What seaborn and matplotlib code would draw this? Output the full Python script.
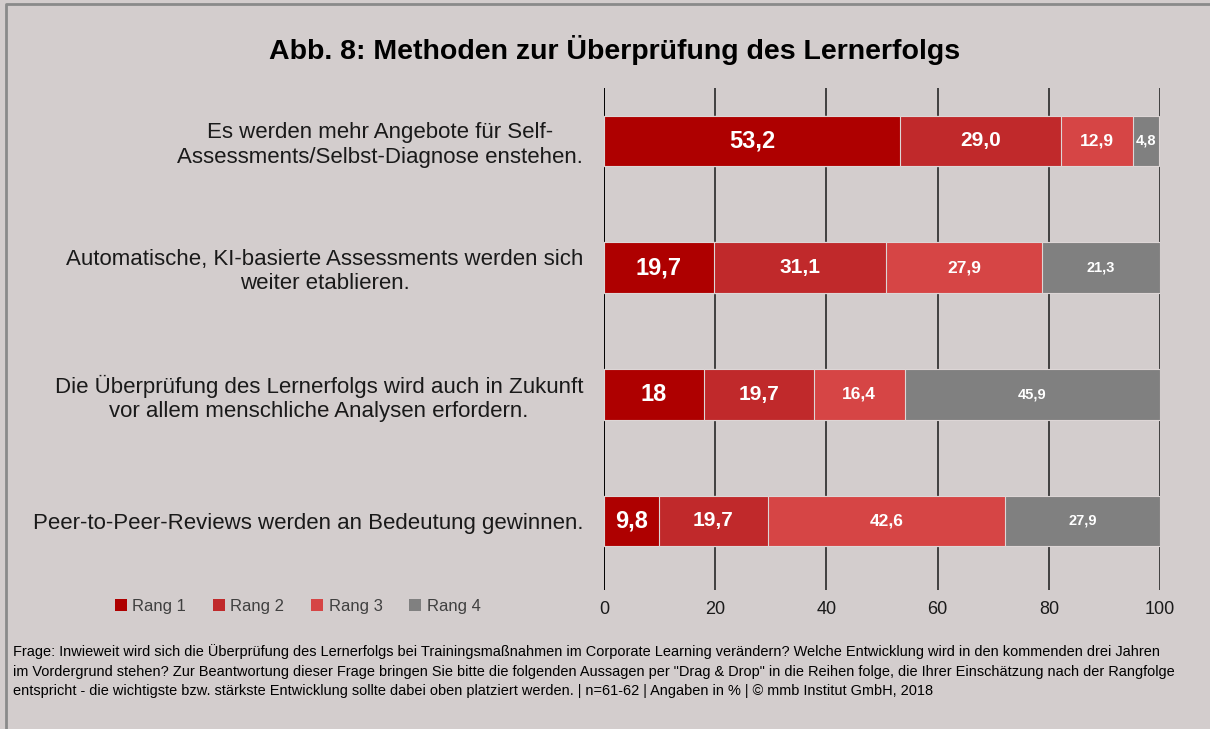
import numpy as np
import pandas as pd
import matplotlib
matplotlib.use("Agg")
import matplotlib.pyplot as plt
import seaborn as sns
from matplotlib.patches import Patch
from matplotlib.lines import Line2D

# Daten (Angaben in %)
aussagen = [
    "Es werden mehr Angebote für Self-\nAssessments/Selbst-Diagnose enstehen.",
    "Automatische, KI-basierte Assessments werden sich\nweiter etablieren.",
    "Die Überprüfung des Lernerfolgs wird auch in Zukunft\nvor allem menschliche Analysen erfordern.",
    "Peer-to-Peer-Reviews werden an Bedeutung gewinnen.",
]
rang_namen = ["Rang 1", "Rang 2", "Rang 3", "Rang 4"]
rang1 = [53.2, 19.7, 18, 9.8]
rang2 = [29.0, 31.1, 19.7, 19.7]
rang3 = [12.9, 27.9, 16.4, 42.6]
rang4 = [4.8, 21.3, 45.9, 27.9]
raenge = [rang1, rang2, rang3, rang4]

farben = ["#AE0000", "#C0292B", "#D64545", "#808080"]
label_groesse = [17, 15, 12.5, 10.5]
bg = "#D3CDCD"

df = pd.DataFrame({"Aussage": aussagen, "Rang 1": rang1, "Rang 2": rang2,
                   "Rang 3": rang3, "Rang 4": rang4})
kumuliert = df[rang_namen].cumsum(axis=1)

sns.set_style("white")
plt.rcParams["font.family"] = ["Liberation Sans", "DejaVu Sans"]

fig = plt.figure(figsize=(12.1, 7.29), dpi=100, facecolor=bg)
ax = fig.add_axes([0.4992, 0.1907, 0.4595, 0.6886])
ax.set_facecolor(bg)

# vertikale Gitterlinien
for x in range(0, 101, 20):
    ax.axvline(x, color="black" if x == 0 else "#404040", lw=1.4, zorder=0)

# gestapelte Balken: kumulierte Summen von hinten nach vorne
for i in range(3, -1, -1):
    sns.barplot(x=kumuliert[rang_namen[i]], y=df["Aussage"], orient="h",
                color=farben[i], width=0.4, edgecolor="#DDD6D6", linewidth=0.8,
                saturation=1, ax=ax, zorder=2)

# Datenbeschriftungen
for i, name in enumerate(rang_namen):
    for j, v in enumerate(raenge[i]):
        links = kumuliert[name][j] - v
        txt = str(v).replace(".", ",")
        ax.text(links + v / 2, j, txt, ha="center", va="center",
                color="white", fontsize=label_groesse[i], fontweight="bold", zorder=3)

ax.set_xlim(0, 100)
ax.set_ylim(3.545, -0.418)
ax.set_xticks(range(0, 101, 20))
ax.set_xlabel("")
ax.set_ylabel("")
for s in ax.spines.values():
    s.set_visible(False)
ax.tick_params(axis="x", length=6, width=1.4, color="#404040", labelsize=13,
               labelcolor="#1a1a1a", pad=2)
ax.tick_params(axis="y", length=0, pad=15, labelsize=16, labelcolor="#1a1a1a")
for t in ax.get_yticklabels():
    t.set_multialignment("center")

# Titel
fig.text(0.508, 0.931, "Abb. 8: Methoden zur Überprüfung des Lernerfolgs",
         ha="center", va="center", fontsize=20.5, fontweight="bold", color="black")

# Legende
handles = [Patch(facecolor=c, edgecolor="none", label=n) for c, n in zip(farben, rang_namen)]
leg = fig.legend(handles=handles, loc="center", bbox_to_anchor=(0.246, 0.168), ncol=4,
                 frameon=False, fontsize=12, handlelength=0.7, handleheight=0.7,
                 handletextpad=0.35, columnspacing=1.6)
for t in leg.get_texts():
    t.set_color("#404040")

# Fußnote
fussnote = ("Frage: Inwieweit wird sich die Überprüfung des Lernerfolgs bei Trainingsmaßnahmen im "
            "Corporate Learning verändern? Welche Entwicklung wird in den kommenden drei Jahren\n"
            "im Vordergrund stehen? Zur Beantwortung dieser Frage bringen Sie bitte die folgenden "
            "Aussagen per \"Drag & Drop\" in die Reihen folge, die Ihrer Einschätzung nach der Rangfolge\n"
            "entspricht - die wichtigste bzw. stärkste Entwicklung sollte dabei oben platziert werden. "
            "| n=61-62 | Angaben in % | © mmb Institut GmbH, 2018")
fig.text(0.011, 0.116, fussnote, ha="left", va="top", fontsize=10.45, color="black",
         linespacing=1.48)

# Rahmen (links und oben)
fig.lines.append(Line2D([0.005, 0.005, 1.0], [0.0, 0.994, 0.994], transform=fig.transFigure,
                        color="#8A8A8A", lw=2))

fig.savefig("out.png", dpi=100, facecolor=bg)
